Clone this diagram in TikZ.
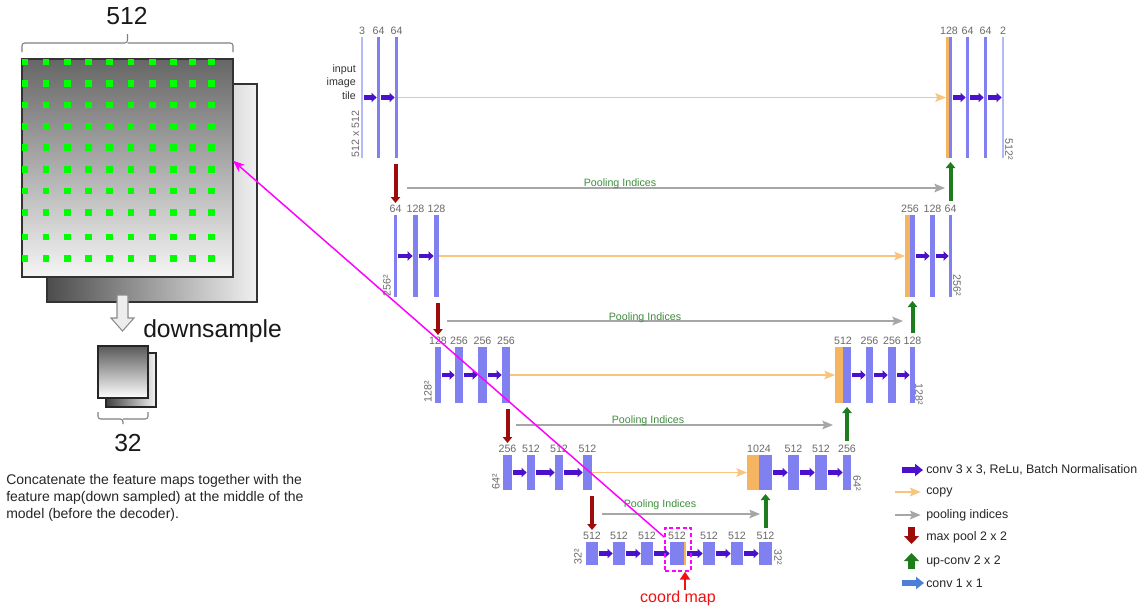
\documentclass[tikz,border=0pt]{standalone}
\usepackage{fontspec}
\setmainfont{Liberation Sans}
\usetikzlibrary{arrows.meta}
\definecolor{barblue}{HTML}{8080F0}
\definecolor{barlight}{HTML}{B4BAF8}
\definecolor{barorange}{HTML}{F5B560}
\definecolor{copyc}{HTML}{F8C47E}
\definecolor{convc}{HTML}{4B10CC}
\definecolor{poolred}{HTML}{9E0B0B}
\definecolor{upgreen}{HTML}{1E7B1E}
\definecolor{graya}{HTML}{A6A6A6}
\definecolor{labgray}{HTML}{6A6A6A}
\definecolor{pigreen}{HTML}{3E8E3E}
\definecolor{onebyone}{HTML}{4D7FD6}
\definecolor{dotgreen}{HTML}{00FF00}
\definecolor{magc}{RGB}{255,0,255}
\definecolor{redc}{RGB}{240,16,16}
\newcommand\mkbar[6]{\node[#6, minimum width={(#3-#2)*0.75pt}, minimum height={(#5-#4)*0.75pt}] (#1) at ({(#2+#3)/2},{(#4+#5)/2}) {};}
\newcommand\mklab[2]{\node[lab] (t-#1) at ([yshift=1.8pt]#1.north) {#2};}
\newcommand\mklabj[2]{\node[lab] (t-#1) at ([yshift=1.8pt]#1.north east) {#2};}
\tikzset{
  barB/.style={fill=barblue, draw=none, inner sep=0pt, outer sep=0pt},
  barL/.style={fill=barlight, draw=none, inner sep=0pt, outer sep=0pt},
  barO/.style={fill=barorange, draw=none, inner sep=0pt, outer sep=0pt},
  lab/.style={font=\fontsize{8}{9}\selectfont, text=labgray, inner sep=0pt, anchor=base},
  rotlabL/.style={font=\fontsize{8}{9}\selectfont, text=labgray, inner sep=0pt, rotate=90, anchor=west},
  rotlabR/.style={font=\fontsize{8}{9}\selectfont, text=labgray, inner sep=0pt, rotate=-90, anchor=east},
  pitext/.style={font=\fontsize{8}{9}\selectfont, text=pigreen, inner sep=0pt},
  conv/.style={draw=convc, line width=3.2pt, -{Triangle[length=3.8pt,width=7pt]}, shorten <=1pt, shorten >=0.3pt},
  copyarr/.style={draw=copyc, line width=1pt, -{Stealth[length=8pt,width=6.5pt,inset=1.5pt]}},
  poolarr/.style={draw=graya, line width=1pt, -{Stealth[length=8pt,width=6.5pt,inset=1.5pt]}},
  maxp/.style={draw=poolred, line width=3pt, -{Triangle[length=4.5pt,width=7pt]}, shorten <=4.5pt, shorten >=9pt},
  upc/.style={draw=upgreen, line width=3pt, -{Triangle[length=4.5pt,width=7pt]}, shorten <=10.5pt, shorten >=3pt},
  mag/.style={draw=magc, line width=1.1pt, -{Stealth[length=9pt,width=7pt]}},
  legtxt/.style={font=\fontsize{9.3}{11}\selectfont, text=black!85, inner sep=0pt, anchor=west},
  bigtxt/.style={font=\fontsize{18.5}{20}\selectfont, text=black!90, inner sep=0pt},
  paratxt/.style={font=\fontsize{10.5}{12.75}\selectfont, text=black!85, inner sep=0pt, anchor=base west},
  smalltxt/.style={font=\fontsize{8}{9}\selectfont, text=black!80, inner sep=0pt, anchor=base east},
  brace/.style={draw=black!50, line width=0.8pt, rounded corners=2pt}
}
\begin{document}
\begin{tikzpicture}[x=0.75pt, y=-0.75pt]
\useasboundingbox (0,0) rectangle (1147,611);
\fill[white] (0,0) rectangle (1147,611);

% ---------------- left illustration ----------------
\node[draw=black!80, line width=0.8pt, left color=black!70, right color=black!6, minimum width={210*0.75pt}, minimum height={218*0.75pt}, inner sep=0pt, outer sep=0pt] (backmap) at (152,193) {};
\node[draw=black!80, line width=0.8pt, top color=black!60, bottom color=black!4, minimum width={211*0.75pt}, minimum height={218*0.75pt}, inner sep=0pt, outer sep=0pt] (bigmap) at (127.5,168) {};
\begin{scope}
\clip (22,59) rectangle (233,277);
\foreach \cx in {24.3,46,67.3,88.3,109.7,131,152.3,173.3,192.3,211.3}
  \foreach \cy in {62,83.3,105,126.7,147.7,169.3,191,212.3,237,258.7}
    \fill[dotgreen] (\cx-3.3,\cy-3.3) rectangle (\cx+3.3,\cy+3.3);
\end{scope}
\draw[brace] (22,52) -- (22,43) -- (127.5,43) -- (127.5,34);
\draw[brace] (127.5,43) -- (233,43) -- (233,52);
\node[bigtxt] (t512) at (127,16.5) {512};

\draw[draw=black!45, fill=black!7, line width=0.8pt] (117,295) -- (128,295) -- (128,318) -- (134,318) -- (122.5,331) -- (111,318) -- (117,318) -- cycle;
\node[bigtxt, anchor=base west] (tdown) at (143,337) {downsample};

\node[draw=black!85, line width=0.8pt, left color=black!75, right color=black!5, minimum width={50*0.75pt}, minimum height={54*0.75pt}, inner sep=0pt] (smallback) at (131,380) {};
\node[draw=black!85, line width=0.8pt, top color=black!65, bottom color=white, minimum width={50*0.75pt}, minimum height={52*0.75pt}, inner sep=0pt] (smallfront) at (123,372) {};
\draw[brace] (98,412) -- (98,419) -- (123,419) -- (123,424);
\draw[brace] (123,419) -- (148,419) -- (148,412);
\node[bigtxt] (t32) at (128,443) {32};

\node[paratxt] (para1) at (6,484) {Concatenate the feature maps together with the};
\node[paratxt] (para2) at (6,501) {feature map(down sampled) at the middle of the};
\node[paratxt] (para3) at (6,518) {model (before the decoder).};

% ---------------- level 1 ----------------
\mkbar{l1e1}{361}{363}{37}{158}{barL}
\mkbar{l1e2}{377}{380}{37}{158}{barB}
\mkbar{l1e3}{395}{398}{37}{158}{barB}
\mkbar{l1dO}{946}{949}{37}{158}{barO}
\mkbar{l1dB}{949}{952}{37}{158}{barB}
\mkbar{l1d2}{966}{969}{37}{158}{barB}
\mkbar{l1d3}{984}{987}{37}{158}{barB}
\mkbar{l1d4}{1002}{1004}{37}{158}{barL}
\mklab{l1e1}{3}\mklab{l1e2}{64}\mklab{l1e3}{64}
\mklabj{l1dO}{128}\mklab{l1d2}{64}\mklab{l1d3}{64}\mklab{l1d4}{2}
\node[smalltxt] (in1) at (356,72) {input};
\node[smalltxt] (in2) at (356,85.5) {image};
\node[smalltxt] (in3) at (356,99) {tile};
\node[rotlabL] (r1l) at (355.5,158) {512 x 512};
\node[rotlabR] (r1r) at (1009,160) {512²};
\draw[conv] (l1e1) -- (l1e2);
\draw[conv] (l1e2) -- (l1e3);
\draw[copyarr] (l1e3) -- (l1dO);
\draw[conv] (l1dB) -- (l1d2);
\draw[conv] (l1d2) -- (l1d3);
\draw[conv] (l1d3) -- (l1d4);

% ---------------- level 2 ----------------
\mkbar{l2e1}{394}{397}{215}{297}{barB}
\mkbar{l2e2}{413}{418}{215}{297}{barB}
\mkbar{l2e3}{434}{439}{215}{297}{barB}
\mkbar{l2dO}{905}{910}{215}{297}{barO}
\mkbar{l2dB}{910}{915}{215}{297}{barB}
\mkbar{l2d2}{930}{935}{215}{297}{barB}
\mkbar{l2d3}{949}{952}{215}{297}{barB}
\mklab{l2e1}{64}\mklab{l2e2}{128}\mklab{l2e3}{128}
\mklabj{l2dO}{256}\mklab{l2d2}{128}\mklab{l2d3}{64}
\node[rotlabL] (r2l) at (387,297) {256²};
\node[rotlabR] (r2r) at (957,296) {256²};
\draw[conv] (l2e1) -- (l2e2);
\draw[conv] (l2e2) -- (l2e3);
\draw[copyarr] (l2e3) -- (l2dO);
\draw[conv] (l2dB) -- (l2d2);
\draw[conv] (l2d2) -- (l2d3);

% ---------------- level 3 ----------------
\mkbar{l3e1}{435}{441}{347}{403}{barB}
\mkbar{l3e2}{455}{463}{347}{403}{barB}
\mkbar{l3e3}{478}{487}{347}{403}{barB}
\mkbar{l3e4}{502}{510}{347}{403}{barB}
\mkbar{l3dO}{835}{843}{347}{403}{barO}
\mkbar{l3dB}{843}{851}{347}{403}{barB}
\mkbar{l3d2}{866}{873}{347}{403}{barB}
\mkbar{l3d3}{888}{896}{347}{403}{barB}
\mkbar{l3d4}{910}{915}{347}{403}{barB}
\mklab{l3e1}{128}\mklab{l3e2}{256}\mklab{l3e3}{256}\mklab{l3e4}{256}
\mklabj{l3dO}{512}\mklab{l3d2}{256}\mklab{l3d3}{256}\mklab{l3d4}{128}
\node[rotlabL] (r3l) at (428,403) {128²};
\node[rotlabR] (r3r) at (919,405) {128²};
\draw[conv] (l3e1) -- (l3e2);
\draw[conv] (l3e2) -- (l3e3);
\draw[conv] (l3e3) -- (l3e4);
\draw[copyarr] (l3e4) -- (l3dO);
\draw[conv] (l3dB) -- (l3d2);
\draw[conv] (l3d2) -- (l3d3);
\draw[conv] (l3d3) -- (l3d4);

% ---------------- level 4 ----------------
\mkbar{l4e1}{503}{512}{455}{490}{barB}
\mkbar{l4e2}{527}{535}{455}{490}{barB}
\mkbar{l4e3}{555}{563}{455}{490}{barB}
\mkbar{l4e4}{583}{592}{455}{490}{barB}
\mkbar{l4dO}{747}{759}{455}{490}{barO}
\mkbar{l4dB}{759}{772}{455}{490}{barB}
\mkbar{l4d2}{788}{799}{455}{490}{barB}
\mkbar{l4d3}{815}{827}{455}{490}{barB}
\mkbar{l4d4}{843}{851}{455}{490}{barB}
\mklab{l4e1}{256}\mklab{l4e2}{512}\mklab{l4e3}{512}\mklab{l4e4}{512}
\mklabj{l4dO}{1024}\mklab{l4d2}{512}\mklab{l4d3}{512}\mklab{l4d4}{256}
\node[rotlabL] (r4l) at (496,490) {64²};
\node[rotlabR] (r4r) at (857,491) {64²};
\draw[conv] (l4e1) -- (l4e2);
\draw[conv] (l4e2) -- (l4e3);
\draw[conv] (l4e3) -- (l4e4);
\draw[copyarr] (l4e4) -- (l4dO);
\draw[conv] (l4dB) -- (l4d2);
\draw[conv] (l4d2) -- (l4d3);
\draw[conv] (l4d3) -- (l4d4);

% ---------------- level 5 ----------------
\mkbar{l5e1}{586}{598}{542}{565}{barB}
\mkbar{l5e2}{613}{625}{542}{565}{barB}
\mkbar{l5e3}{641}{653}{542}{565}{barB}
\mkbar{l5e4}{670}{684}{542}{565}{barB}
\mkbar{l5cm}{684}{686}{542}{565}{barO}
\mkbar{l5d1}{703}{715}{542}{565}{barB}
\mkbar{l5d2}{731}{743}{542}{565}{barB}
\mkbar{l5d3}{759}{772}{542}{565}{barB}
\mklab{l5e1}{512}\mklab{l5e2}{512}\mklab{l5e3}{512}\mklab{l5e4}{512}
\mklab{l5d1}{512}\mklab{l5d2}{512}\mklab{l5d3}{512}
\node[rotlabL] (r5l) at (578,565) {32²};
\node[rotlabR] (r5r) at (778,565) {32²};
\draw[conv] (l5e1) -- (l5e2);
\draw[conv] (l5e2) -- (l5e3);
\draw[conv] (l5e3) -- (l5e4);
\draw[conv] (l5cm) -- (l5d1);
\draw[conv] (l5d1) -- (l5d2);
\draw[conv] (l5d2) -- (l5d3);

% ---------------- max pool / up-conv ----------------
\draw[maxp] (l1e3.south -| l2e1) -- (l2e1.north);
\draw[maxp] (l2e3.south -| l3e1) -- (l3e1.north);
\draw[maxp] (l3e4.south -| l4e1) -- (l4e1.north);
\draw[maxp] (l4e4.south -| l5e1) -- (l5e1.north);
\draw[upc] (l2d3.north) -- (l2d3.north |- l1dB.south);
\draw[upc] (l3d4.north) -- (l3d4.north |- l2dB.south);
\draw[upc] (l4d4.north) -- (l4d4.north |- l3dB.south);
\draw[upc] (l5d3.north) -- (l5d3.north |- l4dB.south);

% ---------------- pooling indices ----------------
\coordinate (p1a) at (407,188); \coordinate (p1b) at (945,188);
\coordinate (p2a) at (447,321); \coordinate (p2b) at (903,321);
\coordinate (p3a) at (516,425); \coordinate (p3b) at (833,425);
\coordinate (p4a) at (602,514); \coordinate (p4b) at (760,514);
\draw[poolarr] (p1a) -- (p1b);
\draw[poolarr] (p2a) -- (p2b);
\draw[poolarr] (p3a) -- (p3b);
\draw[poolarr] (p4a) -- (p4b);
\node[pitext] (pi1) at (620,184) {Pooling Indices};
\node[pitext] (pi2) at (645,318) {Pooling Indices};
\node[pitext] (pi3) at (648,421) {Pooling Indices};
\node[pitext] (pi4) at (660,505) {Pooling Indices};

% ---------------- coord map ----------------
\node[draw=magc, dashed, dash pattern=on 3pt off 2pt, line width=1pt, minimum width={26*0.75pt}, minimum height={43*0.75pt}, inner sep=0pt] (cbox) at (678,549.5) {};
\node[font=\fontsize{12}{14}\selectfont, text=redc, inner sep=0pt, anchor=base] (coord) at (678,602) {coord map};
\draw[draw=redc, line width=2.2pt, -{Triangle[length=6pt,width=7.5pt]}] (coord.north -| l5cm) -- (l5cm |- cbox.south);
\draw[mag] (cbox.138) -- (bigmap.4);

% ---------------- legend ----------------
\node[legtxt] (lg1) at (926,470) {conv 3 x 3, ReLu, Batch Normalisation};
\node[legtxt] (lg2) at (926,492) {copy};
\node[legtxt] (lg3) at (926,515) {pooling indices};
\node[legtxt] (lg4) at (926,537) {max pool 2 x 2};
\node[legtxt] (lg5) at (926,561) {up-conv 2 x 2};
\node[legtxt] (lg6) at (926,583) {conv 1 x 1};
\coordinate (lg1a) at (902,470);
\coordinate (lg2a) at (895,492);
\coordinate (lg3a) at (895,515);
\coordinate (lg4a) at (911.5,527);
\coordinate (lg4b) at (911.5,544);
\coordinate (lg5a) at (911.5,569);
\coordinate (lg5b) at (911.5,553);
\coordinate (lg6a) at (902,583);
\draw[draw=convc, line width=4.5pt, -{Triangle[length=6pt,width=9pt]}, shorten >=2.25pt] (lg1a) -- (lg1.west);
\draw[copyarr, shorten >=4pt] (lg2a) -- (lg2.west);
\draw[poolarr, shorten >=4pt] (lg3a) -- (lg3.west);
\draw[draw=poolred, line width=5pt, -{Triangle[length=6pt,width=11pt]}] (lg4a) -- (lg4b);
\draw[draw=upgreen, line width=5pt, -{Triangle[length=6pt,width=11pt]}] (lg5a) -- (lg5b);
\draw[draw=onebyone, line width=5pt, -{Triangle[length=6pt,width=9pt]}, shorten >=1.5pt] (lg6a) -- (lg6.west);
\end{tikzpicture}
\end{document}
